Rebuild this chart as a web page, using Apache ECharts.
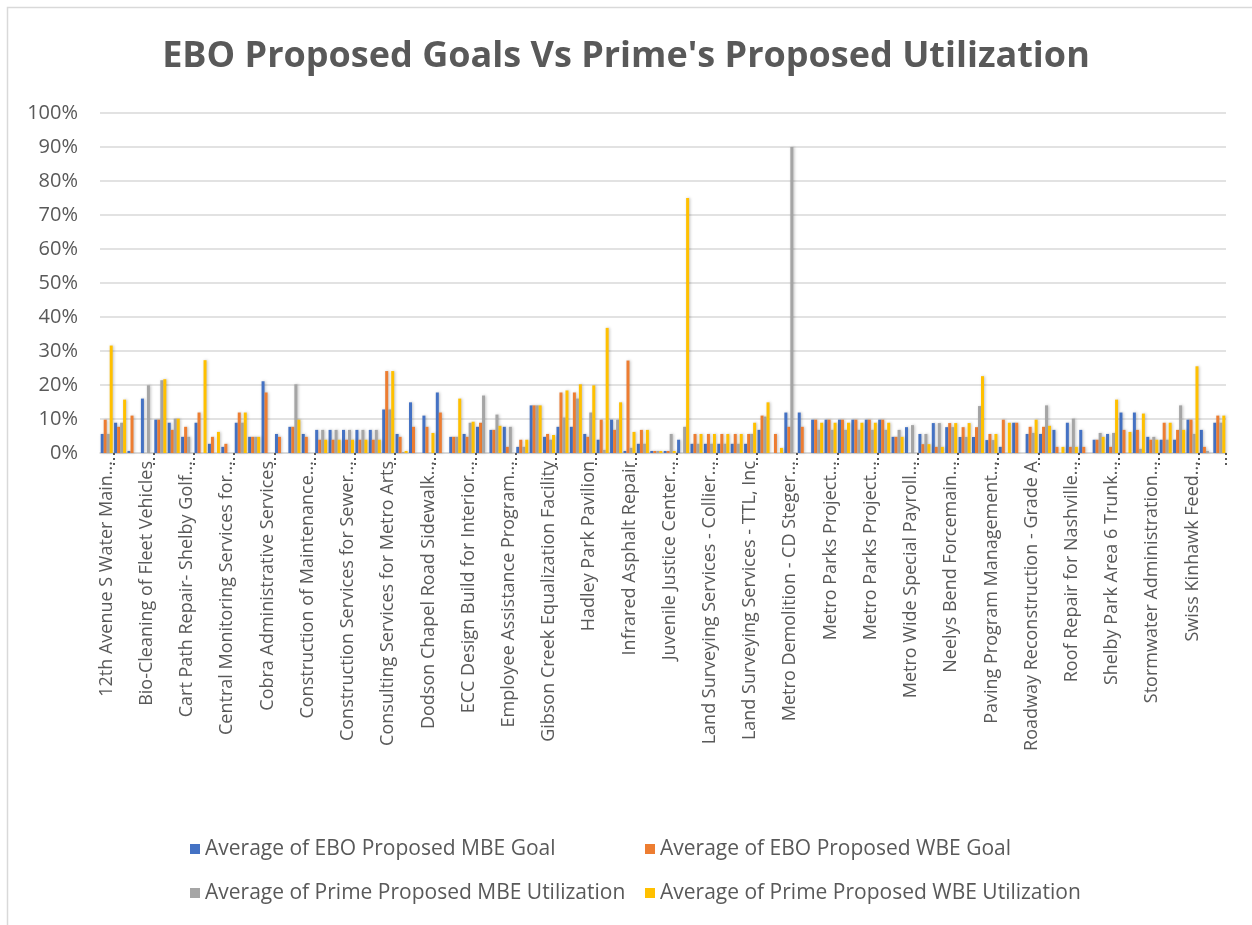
<!DOCTYPE html>
<html>
<head>
<meta charset="utf-8">
<script src="https://cdn.jsdelivr.net/npm/echarts@6/dist/echarts.min.js"></script>
<style>
  html, body { margin: 0; padding: 0; background: #fff; }
  #chart { width: 1252px; height: 925px; }
</style>
</head>
<body>
<div id="chart"></div>
<script>
// only every third project name is printed on the axis
const shownLabels = [
  '12th Avenue S Water Main...', 'Bio-Cleaning of Fleet Vehicles', 'Cart Path Repair- Shelby Golf...',
  'Central Monitoring Services for...', 'Cobra Administrative Services', 'Construction of Maintenance...',
  'Construction Services for Sewer...', 'Consulting Services for Metro Arts', 'Dodson Chapel Road Sidewalk...',
  'ECC Design Build for Interior...', 'Employee Assistance Program...', 'Gibson Creek Equalization Facility',
  'Hadley Park Pavilion', 'Infrared Asphalt Repair', 'Juvenile Justice Center...',
  'Land Surveying Services - Collier...', 'Land Surveying Services - TTL, Inc', 'Metro Demolition - CD Steger...',
  'Metro Parks Project...', 'Metro Parks Project...', 'Metro Wide Special Payroll...',
  'Neelys Bend Forcemain...', 'Paving Program Management...', 'Roadway Reconstruction - Grade A',
  'Roof Repair for Nashville...', 'Shelby Park Area 6 Trunk...', 'Stormwater Administration...',
  'Swiss Kinhawk Feed...'
]

const seriesNames = [
  'Average of EBO Proposed MBE Goal',
  'Average of EBO Proposed WBE Goal',
  'Average of Prime Proposed MBE Utilization',
  'Average of Prime Proposed WBE Utilization'
]

// values in percent, one per project (84 projects)
const mbeGoal = [
  5.6, 8.9, 0.6, 16, 9.8, 8.9, 4.75, 8.9, 2.7, 1.8, 8.9, 4.75, 21.1, 5.6, 7.7, 5.6,
  6.8, 6.8, 6.8, 6.8, 6.8, 12.8, 5.6, 14.9, 11, 17.8, 4.75, 5.6, 7.7, 6.8, 7.7, 1.8,
  14, 4.75, 7.7, 7.7, 5.6, 3.9, 9.8, 0.6, 2.7, 0.6, 0.6, 3.9, 2.7, 2.7, 2.7, 2.7,
  2.7, 6.8, 0, 11.9, 11.9, 9.8, 9.8, 9.8, 9.8, 9.8, 9.8, 4.75, 7.6, 5.6, 8.8, 7.6,
  4.7, 4.7, 3.8, 1.8, 8.9, 5.6, 5.6, 6.8, 8.9, 6.8, 3.9, 5.6, 11.9, 11.9, 4.75, 3.9,
  3.9, 9.8, 6.8, 8.9
]
const wbeGoal = [
  9.8, 7.7, 11, 0, 9.8, 6.8, 7.7, 11.9, 4.75, 2.7, 11.9, 4.75, 17.8, 4.75, 7.7, 4.75,
  3.9, 3.9, 3.9, 3.9, 3.9, 24.1, 4.75, 7.7, 7.7, 11.9, 4.75, 4.75, 8.9, 6.8, 1.8, 3.9,
  14, 5.6, 17.8, 17.8, 4.75, 9.8, 6.8, 27.2, 6.8, 0.6, 0.6, 0, 5.6, 5.6, 5.6, 5.6,
  5.6, 11, 5.6, 7.7, 7.7, 9.8, 9.8, 9.8, 9.8, 9.8, 9.8, 4.75, 0, 2.6, 1.8, 8.8,
  7.6, 7.6, 5.6, 9.8, 8.9, 7.7, 7.7, 1.8, 1.8, 1.8, 3.9, 1.8, 6.8, 6.8, 3.9, 8.9,
  6.8, 9.8, 1.8, 11
]
const mbeUtil = [
  5.6, 8.9, 0, 19.9, 21.4, 10.1, 4.75, 0, 0, 0, 8.9, 4.75, 0, 0, 20.2, 0,
  6.8, 6.8, 6.8, 6.8, 6.8, 12.8, 0.3, 0, 0, 0, 4.75, 8.9, 16.9, 11.3, 7.7, 1.8,
  14, 3.9, 10.4, 16, 11.9, 0.9, 9.8, 1.5, 2.7, 0.6, 5.6, 7.7, 2.7, 2.7, 2.7, 2.7,
  5.6, 10.7, 0, 90, 0, 6.8, 6.8, 6.8, 6.8, 6.8, 6.8, 6.8, 8.2, 5.6, 8.8, 7.6,
  4.7, 13.8, 3.8, 0, 0, 5.9, 14, 0, 10.1, 0, 5.9, 5.9, 0, 1.2, 4.75, 3.9,
  14, 5.6, 0.6, 8.9
]
const wbeUtil = [
  31.6, 15.7, 0, 0, 21.7, 10.1, 0, 27.3, 6.2, 0, 11.9, 4.75, 0, 0, 9.8, 0,
  3.9, 3.9, 3.9, 3.9, 3.9, 24.1, 0.6, 0, 5.9, 0, 16, 9.2, 0, 8, 0, 3.9,
  14, 5.3, 18.4, 20.2, 19.9, 36.8, 14.9, 6.2, 6.8, 0.6, 0.6, 75, 5.6, 5.6, 5.6, 5.6,
  8.9, 14.9, 1.5, 0, 0, 8.9, 8.9, 8.9, 8.9, 8.9, 8.9, 4.75, 0, 2.6, 1.8, 8.8,
  8.8, 22.6, 5.6, 8.9, 0, 9.8, 8, 1.8, 1.8, 0, 4.75, 15.7, 6.2, 11.6, 3.9, 8.9,
  6.8, 25.5, 0, 11
]

const yTicks = [0, 10, 20, 30, 40, 50, 60, 70, 80, 90, 100]

const categories = mbeGoal.map((v, i) => (i % 3 === 0 ? shownLabels[i / 3] : ''))
const colors = ['#4472C4', '#ED7D31', '#A5A5A5', '#FFC000']
const allValues = [mbeGoal, wbeGoal, mbeUtil, wbeUtil]

const chart = echarts.init(document.getElementById('chart'))

const legendPos = [[190, 837], [645, 837], [190, 881], [645, 881]]

chart.setOption({
  animation: false,
  color: colors,
  textStyle: { fontFamily: 'Open Sans' },
  title: {
    text: "EBO Proposed Goals Vs Prime's Proposed Utilization",
    left: 'center',
    top: 34,
    textStyle: { fontSize: 36, fontWeight: 'bold', color: '#595959', fontFamily: 'Open Sans' }
  },
  // chart-area frame: only the left and top edges show in the original
  graphic: [{
    type: 'polyline',
    shape: { points: [[7.5, 925], [7.5, 7.5], [1252, 7.5]] },
    style: { fill: 'none', stroke: '#d9d9d9', lineWidth: 1.5 }
  }],
  legend: seriesNames.map((name, i) => ({
    data: [name],
    left: legendPos[i][0],
    top: legendPos[i][1],
    padding: 0,
    icon: 'rect',
    itemWidth: 10,
    itemHeight: 10,
    textStyle: { fontSize: 21, color: '#595959', lineHeight: 24 }
  })),
  grid: { left: 100, right: 26, top: 113, bottom: 472 },
  xAxis: {
    type: 'category',
    data: categories,
    axisLine: { lineStyle: { color: '#d9d9d9', width: 1.5 } },
    axisTick: {
      show: true,
      interval: (i) => i % 3 === 1,
      length: 13,
      lineStyle: { color: '#595959', type: [2, 3], width: 2 }
    },
    axisLabel: {
      interval: 0,
      rotate: 90,
      fontSize: 18,
      color: '#595959',
      margin: 8
    }
  },
  yAxis: {
    type: 'value',
    min: yTicks[0],
    max: yTicks[yTicks.length - 1],
    interval: 10,
    axisLine: { show: false },
    axisTick: { show: false },
    splitLine: { lineStyle: { color: '#d9d9d9', width: 1.5 } },
    axisLabel: { formatter: '{value}%', fontSize: 20, color: '#595959', margin: 22 }
  },
  series: allValues.map((vals, i) => ({
    name: seriesNames[i],
    type: 'bar',
    data: vals,
    barWidth: 3,
    barGap: '0%',
    itemStyle: { color: colors[i], shadowBlur: 3, shadowColor: 'rgba(0,0,0,0.25)', shadowOffsetX: 1 }
  }))
})
</script>
</body>
</html>
